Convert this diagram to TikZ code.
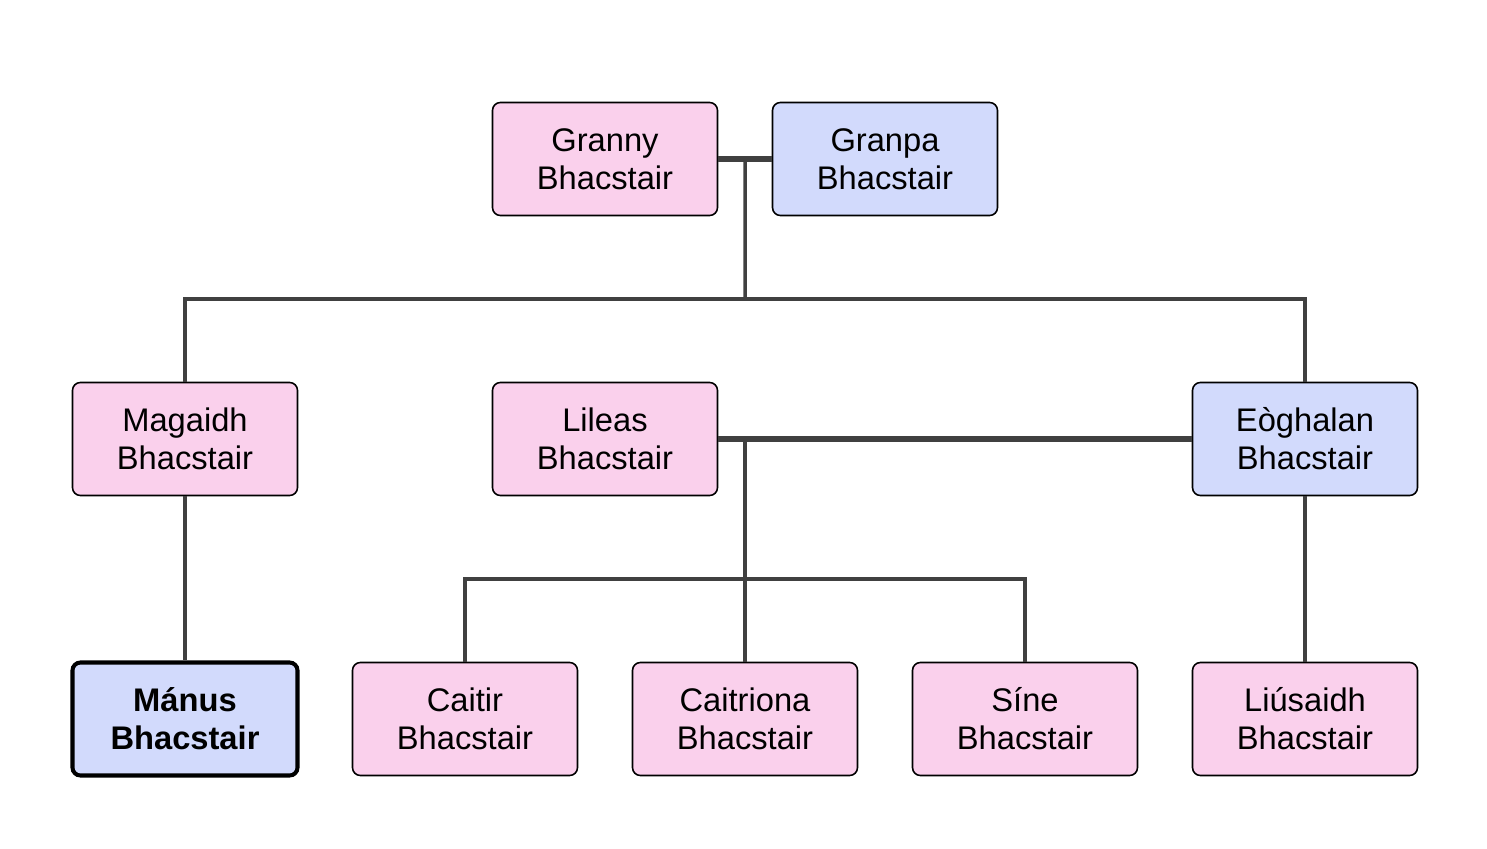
\documentclass[tikz,border=0pt]{standalone}
\usepackage{fontspec}
\setmainfont{Liberation Sans}
\usepackage{tikz}
\usetikzlibrary{positioning, calc}
\definecolor{femfill}{HTML}{FAD0EC}
\definecolor{malfill}{HTML}{D2DAFC}
\definecolor{linegray}{HTML}{404040}

\begin{document}
\begin{tikzpicture}[
  person/.style={draw, rounded corners=4.5pt, line width=0.9pt,
                 minimum width=4.50cm, minimum height=2.26cm,
                 font=\fontsize{18.6}{21.5}\selectfont, align=center},
  fem/.style={person, fill=femfill},
  mal/.style={person, fill=malfill},
  self/.style={line width=2.3pt, font=\fontsize{18.6}{21.5}\selectfont\bfseries},
  couple/.style={draw=linegray, line width=3.1pt},
  child/.style={draw=linegray, line width=2pt},
]
  \useasboundingbox (0,0) rectangle (29.74,-16.98);

  % children
  \node[mal, self] (manus) at (3.70,-14.38) {Mánus\\Bhacstair};
  \node[fem] (caitir)    at (9.30,-14.38)  {Caitir\\Bhacstair};
  \node[fem] (caitriona) at (14.90,-14.38) {Caitriona\\Bhacstair};
  \node[fem] (sine)      at (20.50,-14.38) {Síne\\Bhacstair};
  \node[fem] (liusaidh)  at (26.10,-14.38) {Liúsaidh\\Bhacstair};

  % parents
  \node[fem] (magaidh)  at (3.70,-8.78)  {Magaidh\\Bhacstair};
  \node[fem] (lileas)   at (12.10,-8.78) {Lileas\\Bhacstair};
  \node[mal] (eoghalan) at (26.10,-8.78) {Eòghalan\\Bhacstair};

  % grandparents
  \node[fem] (granny) at (12.10,-3.18) {Granny\\Bhacstair};
  \node[mal] (granpa) at (17.70,-3.18) {Granpa\\Bhacstair};

  \coordinate (top) at ($(granny.east)!0.5!(granpa.west)$);
  \coordinate (bar1) at ($(top |- granny.south)!0.5!(top |- magaidh.north)$);
  \draw[couple] (granny) -- (granpa);
  \draw[child] (top) -- (bar1);
  \draw[child] (magaidh) |- (bar1) -| (eoghalan);

  \coordinate (mid) at (lileas.east -| caitriona);
  \coordinate (bar2) at ($(caitriona.north |- lileas.south)!0.5!(caitriona.north)$);
  \draw[couple] (lileas) -- (eoghalan);
  \draw[child] (mid) -- (caitriona);
  \draw[child] (caitir) |- (bar2) -| (sine);
  \draw[child] (magaidh) -- (manus);
  \draw[child] (eoghalan) -- (liusaidh);
\end{tikzpicture}
\end{document}
